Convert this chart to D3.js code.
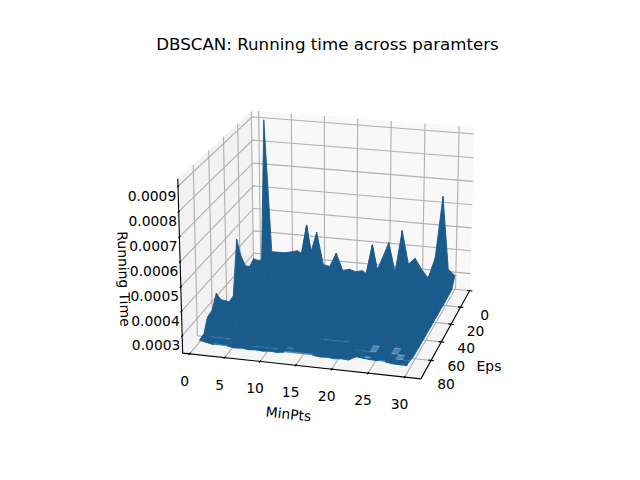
<!DOCTYPE html>
<html>
<head>
<meta charset="utf-8">
<script src="https://cdn.jsdelivr.net/npm/d3@7"></script>
<style>
  html, body { margin: 0; background: #fff; }
  text { font-family: "DejaVu Sans", sans-serif; fill: #000; }
</style>
</head>
<body>
<svg id="chart" width="640" height="480"></svg>
<script>
const chartTitle = 'DBSCAN: Running time across paramters';
const minPtsLabel = 'MinPts';
const epsLabel = 'Eps';
const timeLabel = 'Running Time';

const minPtsTicks = [0, 5, 10, 15, 20, 25, 30];
const epsTicks = [0, 20, 40, 60, 80];
const timeTicks = [0.0003, 0.0004, 0.0005, 0.0006, 0.0007, 0.0008, 0.0009];

const minPtsLimits = [-1, 32.2];
const epsLimits = [-1.2, 99];
const timeLimits = [0.000228, 0.000928];

const minPtsValues = d3.range(1, 31);
const epsValues = [1, 7, 13, 19, 25, 31, 37, 43, 49, 55, 60, 66, 72, 78, 79, 84, 85, 89, 90, 92, 93, 94, 95];

// running time in units of 1e-4, one list per Eps value
const timeUnit = 1e-4;
const timeEps1 = [8.98, 3.22, 3.22, 3.23, 3.29, 3.37, 3.21, 3.28, 4.27, 2.86, 2.80, 3.43, 2.68, 2.76, 2.68, 2.75, 2.58, 2.66, 3.35, 4.11, 2.84, 4.69, 3.24, 3.52, 3.06, 2.71, 3.60, 6.32, 3.17, 2.93];
const timeEps7 = [3.01, 3.05, 3.14, 2.98, 3.10, 3.02, 3.12, 4.75, 3.06, 2.72, 2.64, 2.78, 2.60, 2.68, 2.72, 2.62, 2.70, 4.15, 2.75, 2.84, 2.66, 2.92, 2.80, 2.86, 2.72, 2.62, 2.78, 2.90, 2.68, 2.52];
const timeEps13 = [3.21, 2.92, 3.02, 2.88, 3.06, 2.94, 2.84, 3.00, 2.78, 2.88, 2.70, 2.76, 2.66, 2.74, 2.62, 2.72, 2.80, 2.68, 2.76, 2.64, 2.82, 2.70, 2.86, 2.74, 2.66, 2.80, 2.72, 2.64, 2.78, 2.50];
const timeEps19 = [3.48, 2.86, 2.98, 3.06, 2.80, 2.94, 2.76, 2.90, 3.02, 2.74, 2.86, 2.68, 2.80, 2.64, 2.76, 2.70, 2.82, 2.62, 2.74, 2.84, 2.66, 2.78, 2.70, 2.62, 2.80, 2.68, 2.76, 2.60, 2.70, 2.50];
const timeEps25 = [3.34, 2.78, 2.96, 2.70, 2.88, 3.00, 2.74, 2.92, 2.66, 2.84, 2.72, 2.90, 2.60, 2.78, 2.68, 2.86, 2.64, 2.80, 2.70, 2.88, 2.62, 2.76, 2.84, 2.66, 2.78, 2.60, 2.72, 2.82, 2.58, 2.48];
const timeEps31 = [3.58, 3.04, 2.80, 2.92, 2.72, 2.86, 2.98, 2.68, 2.88, 2.74, 2.94, 2.66, 2.82, 2.72, 2.90, 2.62, 2.78, 2.86, 2.66, 2.80, 2.70, 2.88, 2.64, 2.82, 2.72, 2.80, 2.60, 2.74, 2.66, 2.50];
const timeEps37 = [4.18, 3.10, 2.86, 3.02, 2.76, 2.94, 2.70, 2.90, 2.78, 2.96, 2.68, 2.84, 2.74, 2.92, 2.64, 2.80, 2.70, 2.88, 2.76, 2.62, 2.84, 2.68, 2.78, 2.86, 2.62, 2.76, 2.70, 2.58, 2.72, 2.48];
const timeEps43 = [5.12, 3.20, 2.90, 2.74, 3.00, 2.82, 2.96, 2.70, 2.86, 2.76, 2.92, 2.64, 2.84, 2.70, 2.88, 2.76, 2.62, 2.82, 2.68, 2.86, 2.74, 2.60, 2.80, 2.70, 2.84, 2.64, 2.74, 2.62, 2.68, 2.50];
const timeEps49 = [2.91, 2.84, 2.96, 2.72, 2.88, 2.76, 2.94, 2.80, 2.66, 2.90, 2.72, 2.84, 2.62, 2.78, 2.86, 2.68, 2.80, 2.60, 2.74, 2.84, 2.66, 2.78, 2.62, 2.72, 2.82, 2.66, 2.60, 2.70, 2.58, 2.48];
const timeEps55 = [2.85, 2.98, 2.70, 2.86, 2.74, 2.92, 2.68, 2.84, 2.76, 2.64, 2.88, 2.70, 2.80, 2.66, 2.76, 2.84, 2.62, 2.78, 2.68, 2.58, 2.80, 2.66, 2.74, 2.60, 2.70, 2.62, 2.72, 2.58, 2.64, 2.50];
const timeEps60 = [3.09, 2.76, 2.92, 2.68, 2.82, 2.70, 2.88, 2.64, 2.80, 2.72, 2.60, 2.84, 2.66, 2.76, 2.62, 2.70, 2.80, 2.58, 2.72, 2.64, 2.76, 2.60, 2.68, 2.74, 2.58, 2.66, 2.56, 2.68, 2.60, 2.48];
const timeEps66 = [3.35, 2.90, 2.72, 2.84, 2.66, 2.78, 2.62, 2.82, 2.68, 2.74, 2.84, 2.60, 2.72, 2.64, 2.78, 2.58, 2.70, 2.76, 2.60, 2.68, 2.58, 2.72, 2.62, 2.56, 2.70, 2.60, 2.66, 2.56, 2.62, 2.50];
const timeEps72 = [3.83, 2.82, 2.96, 2.70, 2.80, 2.64, 2.76, 2.60, 2.72, 2.82, 2.62, 2.70, 2.58, 2.74, 2.64, 2.78, 2.56, 2.68, 2.72, 2.58, 2.66, 2.54, 2.70, 2.60, 2.64, 2.54, 2.62, 2.58, 2.54, 2.48];
const timeEps78 = [3.33, 3.00, 2.74, 2.86, 2.62, 2.74, 2.58, 2.68, 2.78, 2.60, 2.70, 2.56, 2.72, 2.62, 2.68, 2.56, 2.62, 2.62, 2.62, 2.62, 2.62, 2.68, 2.56, 2.58, 2.58, 2.62, 2.58, 2.58, 2.52, 2.50];
const timeEps79 = [3.32, 2.98, 2.76, 2.84, 2.64, 2.72, 2.60, 2.66, 2.76, 2.62, 2.68, 2.58, 2.70, 2.64, 2.66, 2.58, 2.62, 2.62, 2.62, 2.62, 2.62, 2.66, 2.60, 2.58, 2.58, 2.54, 2.58, 2.58, 2.54, 2.50];
const timeEps84 = [3.28, 2.78, 2.90, 2.66, 2.76, 2.60, 2.70, 2.56, 2.66, 2.74, 2.58, 2.66, 2.54, 2.68, 2.60, 2.54, 2.66, 2.56, 2.62, 2.52, 2.64, 2.56, 2.56, 2.56, 2.56, 2.60, 2.56, 2.56, 2.56, 2.50];
const timeEps85 = [3.20, 2.80, 2.86, 2.68, 2.74, 2.62, 2.68, 2.58, 2.64, 2.72, 2.60, 2.64, 2.56, 2.66, 2.62, 2.56, 2.64, 2.58, 2.60, 2.54, 2.62, 2.58, 2.56, 2.56, 2.56, 2.52, 2.56, 2.56, 2.56, 2.52];
const timeEps89 = [2.78, 2.68, 2.68, 2.68, 2.68, 2.58, 2.62, 2.54, 2.60, 2.56, 2.66, 2.54, 2.62, 2.58, 2.52, 2.60, 2.54, 2.62, 2.52, 2.58, 2.66, 2.54, 2.72, 2.62, 2.56, 2.56, 2.60, 2.56, 2.56, 2.56];
const timeEps90 = [2.76, 2.68, 2.68, 2.68, 2.66, 2.60, 2.64, 2.56, 2.62, 2.58, 2.68, 2.56, 2.60, 2.60, 2.54, 2.62, 2.56, 2.60, 2.54, 2.60, 2.64, 2.56, 2.70, 2.64, 2.56, 2.56, 2.52, 2.56, 2.56, 2.56];
const timeEps92 = [2.75, 2.72, 2.66, 2.60, 2.58, 2.62, 2.64, 2.60, 2.60, 2.60, 2.60, 2.60, 2.62, 2.62, 2.68, 2.60, 2.66, 2.62, 2.64, 2.60, 2.62, 2.60, 2.72, 2.68, 2.66, 2.64, 2.62, 2.62, 2.62, 2.62];
const timeEps93 = [2.74, 2.70, 2.64, 2.58, 2.57, 2.60, 2.62, 2.60, 2.60, 2.60, 2.60, 2.60, 2.64, 2.60, 2.66, 2.58, 2.64, 2.60, 2.66, 2.58, 2.64, 2.58, 2.74, 2.66, 2.66, 2.70, 2.62, 2.58, 2.66, 2.62];
const timeEps94 = [2.73, 2.68, 2.62, 2.60, 2.60, 2.58, 2.60, 2.64, 2.58, 2.62, 2.56, 2.60, 2.62, 2.62, 2.62, 2.62, 2.62, 2.58, 2.60, 2.58, 2.62, 2.60, 2.72, 2.66, 2.66, 2.64, 2.66, 2.64, 2.60, 2.62];
const timeEps95 = [2.72, 2.66, 2.60, 2.60, 2.60, 2.56, 2.58, 2.55, 2.57, 2.55, 2.58, 2.56, 2.60, 2.60, 2.60, 2.60, 2.60, 2.56, 2.58, 2.55, 2.58, 2.56, 2.73, 2.70, 2.67, 2.66, 2.64, 2.60, 2.59, 2.59];
const timeRows = [timeEps1, timeEps7, timeEps13, timeEps19, timeEps25, timeEps31, timeEps37, timeEps43, timeEps49,
  timeEps55, timeEps60, timeEps66, timeEps72, timeEps78, timeEps79, timeEps84, timeEps85, timeEps89, timeEps90,
  timeEps92, timeEps93, timeEps94, timeEps95];

// camera, same model as a matplotlib 3d axes with box aspect 4:4:3
const elev = 20 * Math.PI / 180;
const azim = 15 * Math.PI / 180;
const cameraDist = 10;
const boxHalf = 0.595;
const boxHalfZ = 0.447;

const epsScale = d3.scaleLinear().domain(epsLimits).range([-boxHalf, boxHalf]);
const minPtsScale = d3.scaleLinear().domain(minPtsLimits).range([-boxHalf, boxHalf]);
const timeScale = d3.scaleLinear().domain(timeLimits).range([-boxHalfZ, boxHalfZ]);
const screenX = d3.scaleLinear().domain([-1, 1]).range([332 - 200, 332 + 200]);
const screenY = d3.scaleLinear().domain([-1, 1]).range([237.5 + 200, 237.5 - 200]);

const project = (eps, minPts, time) => {
  const x = epsScale(eps);
  const y = minPtsScale(minPts);
  const z = timeScale(time);
  const u = -Math.sin(azim) * x + Math.cos(azim) * y;
  const v = -Math.sin(elev) * Math.cos(azim) * x - Math.sin(elev) * Math.sin(azim) * y + Math.cos(elev) * z;
  const w = Math.cos(elev) * Math.cos(azim) * x + Math.cos(elev) * Math.sin(azim) * y + Math.sin(elev) * z;
  const s = cameraDist / (cameraDist - w);
  return { x: screenX(u * s), y: screenY(v * s), depth: w };
};

const svg = d3.select('#chart');
const polyPath = (points) => `M${points.map((p) => `${p.x},${p.y}`).join('L')}Z`;

const [epsLo, epsHi] = epsLimits;
const [ptsLo, ptsHi] = minPtsLimits;
const [timeLo, timeHi] = timeLimits;

// Panes
const panes = [
  { fill: '#f8f8f8', corners: [[epsLo, ptsLo, timeLo], [epsLo, ptsHi, timeLo], [epsLo, ptsHi, timeHi], [epsLo, ptsLo, timeHi]] },
  { fill: '#f2f2f2', corners: [[epsLo, ptsLo, timeLo], [epsHi, ptsLo, timeLo], [epsHi, ptsLo, timeHi], [epsLo, ptsLo, timeHi]] },
  { fill: '#f5f5f5', corners: [[epsLo, ptsLo, timeLo], [epsHi, ptsLo, timeLo], [epsHi, ptsHi, timeLo], [epsLo, ptsHi, timeLo]] }
];
svg.append('g')
  .selectAll('path')
  .data(panes)
  .enter()
  .append('path')
  .attr('fill', (d) => d.fill)
  .attr('d', (d) => polyPath(d.corners.map((c) => project(...c))));

// Grid lines, each one runs across two panes
const gridLines = [];
timeTicks.forEach((t) => {
  gridLines.push([[epsHi, ptsLo, t], [epsLo, ptsLo, t], [epsLo, ptsHi, t]]);
});
minPtsTicks.forEach((m) => {
  gridLines.push([[epsHi, m, timeLo], [epsLo, m, timeLo], [epsLo, m, timeHi]]);
});
epsTicks.forEach((e) => {
  gridLines.push([[e, ptsHi, timeLo], [e, ptsLo, timeLo], [e, ptsLo, timeHi]]);
});
const gridLine = d3.line().x((d) => d.x).y((d) => d.y);
svg.append('g')
  .selectAll('path')
  .data(gridLines)
  .enter()
  .append('path')
  .attr('fill', 'none')
  .attr('stroke', '#b0b0b0')
  .attr('stroke-width', 1.1)
  .attr('d', (d) => gridLine(d.map((c) => project(...c))));

// Axis lines
const axisLines = [
  [[epsHi, ptsLo, timeLo], [epsHi, ptsHi, timeLo]],
  [[epsHi, ptsHi, timeLo], [epsLo, ptsHi, timeLo]],
  [[epsHi, ptsLo, timeLo], [epsHi, ptsLo, timeHi]]
];
const tickReach = 0.012;
const ptsReach = (ptsHi - ptsLo) * tickReach;
const epsReach = (epsHi - epsLo) * tickReach;
const tickLines = [
  ...minPtsTicks.map((m) => [[epsHi + epsReach, m, timeLo], [epsHi - epsReach, m, timeLo]]),
  ...epsTicks.map((e) => [[e, ptsHi + ptsReach, timeLo], [e, ptsHi - ptsReach, timeLo]]),
  ...timeTicks.map((t) => [[epsHi + epsReach, ptsLo, t], [epsHi - epsReach, ptsLo, t]])
];
svg.append('g')
  .selectAll('path')
  .data([...axisLines, ...tickLines])
  .enter()
  .append('path')
  .attr('fill', 'none')
  .attr('stroke', '#000')
  .attr('stroke-width', 1.1)
  .attr('d', (d) => gridLine(d.map((c) => project(...c))));

// Surface facets, far ones first. Nearly flat facets catch more light.
const facets = [];
timeRows.slice(0, -1).forEach((row, i) => {
  row.slice(0, -1).forEach((time, j) => {
    const heights = [time, row[j + 1], timeRows[i + 1][j + 1], timeRows[i + 1][j]];
    const corners = [
      project(epsValues[i], minPtsValues[j], heights[0] * timeUnit),
      project(epsValues[i], minPtsValues[j + 1], heights[1] * timeUnit),
      project(epsValues[i + 1], minPtsValues[j + 1], heights[2] * timeUnit),
      project(epsValues[i + 1], minPtsValues[j], heights[3] * timeUnit)
    ];
    facets.push({
      corners,
      depth: d3.mean(corners, (c) => c.depth),
      relief: d3.max(heights) - d3.min(heights)
    });
  });
});
const flatRelief = 0.021;
const facetColor = d3.scaleThreshold()
  .domain([flatRelief])
  .range(['#4f86b0', '#1a5b8c']);
svg.append('g')
  .selectAll('path')
  .data(facets.sort((a, b) => d3.ascending(a.depth, b.depth)))
  .enter()
  .append('path')
  .attr('fill', (d) => facetColor(d.relief))
  .attr('stroke', (d) => facetColor(d.relief))
  .attr('stroke-width', (d) => (d.relief < flatRelief ? 0 : 0.9))
  .attr('d', (d) => polyPath(d.corners));

// Tick labels
const tickFormat = d3.format('.4f');
const addTickLabels = (values, toPoint, dx, dy, format) => {
  svg.append('g')
    .attr('font-size', 13.89)
    .attr('text-anchor', 'middle')
    .selectAll('text')
    .data(values)
    .enter()
    .append('text')
    .attr('x', (d) => toPoint(d).x + dx)
    .attr('y', (d) => toPoint(d).y + dy)
    .attr('dy', '0.36em')
    .text(format);
};
addTickLabels(minPtsTicks, (m) => project(epsHi, m, timeLo), -5, 27, (d) => d);
addTickLabels(epsTicks, (e) => project(e, ptsHi, timeLo), 15, 24, (d) => d);
addTickLabels(timeTicks, (t) => project(epsHi, ptsLo, t), -26, 9.5, tickFormat);

// Titles
const addLabel = (text, x, y, size, angle) => {
  svg.append('text')
    .attr('font-size', size)
    .attr('text-anchor', 'middle')
    .attr('dy', '0.36em')
    .attr('transform', `translate(${x},${y}) rotate(${angle})`)
    .text(text);
};
addLabel(chartTitle, 327.5, 44, 16.67, 0);
addLabel(minPtsLabel, 288.5, 414, 13.89, 6);
addLabel(epsLabel, 489, 366, 13.89, 0);
addLabel(timeLabel, 124, 279, 13.89, 88);
</script>
</body>
</html>
